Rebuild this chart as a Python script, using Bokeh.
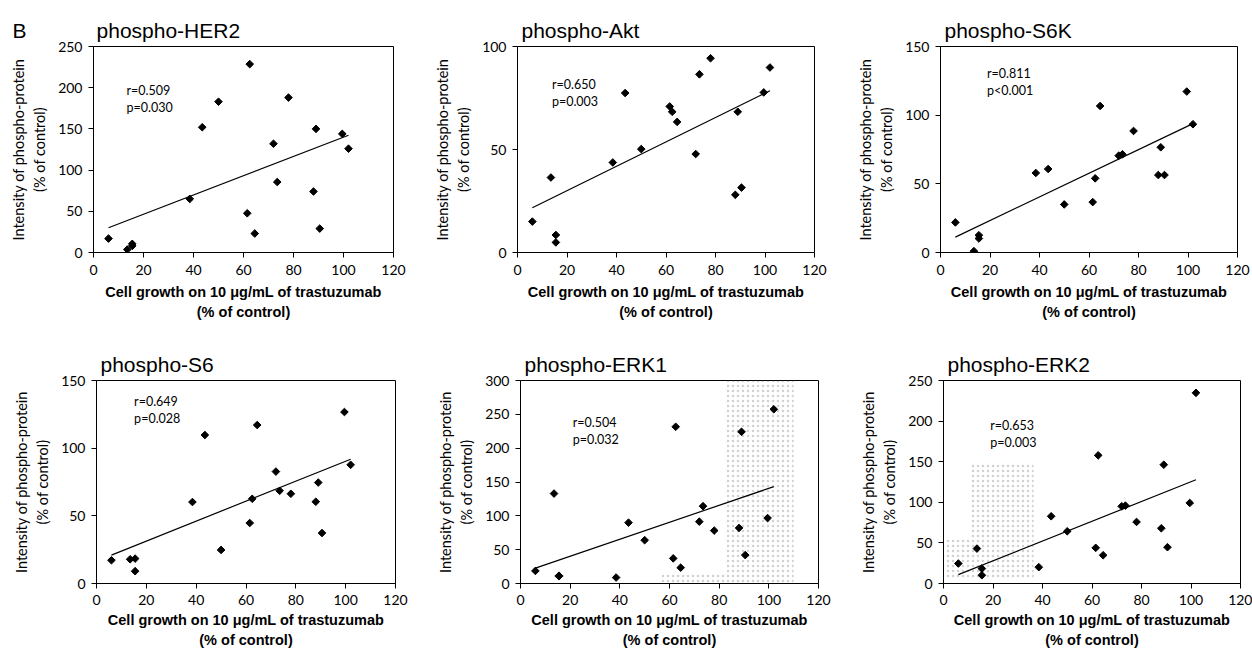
from bokeh.plotting import figure
from bokeh.layouts import column, row
from bokeh.models import Range1d, FixedTicker, Label
from bokeh.embed import file_html
from bokeh.resources import INLINE

# ---------------- data ----------------
# cell growth on 10 ug/mL trastuzumab (% of control), 18 cell lines, shared by all panels
growth = [6, 13.5, 15.5, 15.5, 38.5, 43.5, 50, 61.5, 62.5, 64.5, 72, 73.5, 78, 88, 89, 90.5, 99.5, 102]

her2 = [16.9, 3.6, 8, 10.5, 65, 152, 183, 47.6, 228.6, 23, 132, 85.5, 188, 74, 150, 29, 144, 126]
akt = [15, 36.4, 8.5, 4.9, 43.7, 77.4, 50.2, 70.9, 68.3, 63.4, 47.8, 86.5, 94.3, 28, 68.3, 31.5, 77.7, 89.8]
s6k = [21.9, 1, 12.6, 10.2, 57.9, 60.8, 35, 36.7, 54, 106.7, 70.5, 71.5, 88.5, 56.4, 76.6, 56.4, 117.2, 93.4]
s6 = [17.2, 17.9, 18.4, 9.1, 60.2, 109.7, 24.8, 44.7, 62.6, 117.1, 82.7, 68.5, 66.3, 60.4, 74.6, 37.3, 126.7, 87.7]
erk1 = [18.6, 132.9, 10.7, 11.5, 8.8, 89.9, 64, 37.1, 231.6, 23.4, 91.4, 114.3, 78.2, 82.1, 224.2, 42, 96.7, 257.5]
erk2 = [24.6, 43, 18.4, 10.2, 20.1, 82.8, 64.3, 43.9, 157.8, 34.8, 95.1, 95.9, 75.8, 68, 146.3, 44.7, 99.2, 234.8]

titles = ["phospho-HER2", "phospho-Akt", "phospho-S6K", "phospho-S6", "phospho-ERK1", "phospho-ERK2"]
series = [her2, akt, s6k, s6, erk1, erk2]
y_max = [250, 100, 150, 150, 300, 250]
y_step = [50, 50, 50, 50, 50, 50]
# regression lines as drawn (intercept, slope)
fit_intercept = [23.0, 18.15, 6.04, 16.56, 15.23, 3.68]
fit_slope = [1.17, 0.592, 0.861, 0.738, 1.254, 1.216]
r_text = ["r=0.509", "r=0.650", "r=0.811", "r=0.649", "r=0.504", "r=0.653"]
p_text = ["p=0.030", "p=0.003", "p<0.001", "p=0.028", "p=0.032", "p=0.003"]
x_ticks = [0, 20, 40, 60, 80, 100, 120]
panel_letter = "B"

x_label = "Cell growth on 10 \u03bcg/mL of trastuzumab\n(% of control)"
y_label = "Intensity of phospho-protein\n(% of control)"

# grey stipple left on the scanned original (panel index, x0, x1, y0, y1 in data units)
scan_panel = [4, 4, 5, 5]
scan_x0 = [83, 56, 10.8, 0]
scan_x1 = [110, 83, 36.4, 10.8]
scan_y0 = [0, 0, 6, 6]
scan_y1 = [300, 15, 147, 57]

# ---------------- layout (pixels) ----------------
# width, height, border left, right, top, bottom
geom = [
    (428, 338, 93, 35, 46, 86),
    (420, 338, 89, 34, 46, 86),
    (404, 338, 92, 15, 46, 86),
    (430, 313, 96, 35, 42, 67),
    (420, 313, 90, 32, 42, 67),
    (402, 313, 93, 12, 42, 67),
]
title_standoff = [9, 9, 9, 10, 10, 10]
tick_standoff_x = [7, 7, 7, 6, 6, 6]
label_standoff_x = [6, 6, 6, 4, 4, 4]
# stats text position (data units): x, y of first line, y of second line
stat_pos = [
    (13.2, 197, 176),
    (13.9, 81.6, 73.5),
    (18.8, 130.6, 117.7),
    (15.1, 134.5, 122),
    (21.0, 238, 213.5),
    (18.9, 194.7, 173.4),
]

TICK_FONT = "Lato"
NBSP = "\u00a0"
figs = []
for i in range(6):
    W, H, L, R, T, B = geom[i]
    p = figure(width=W, height=H, x_range=Range1d(0, 120), y_range=Range1d(0, y_max[i]),
               output_backend="svg", toolbar_location=None,
               min_border_left=L, min_border_right=R, min_border_top=T, min_border_bottom=B)
    if i == 0:
        # panel letter shares the first title line (annotations are clipped to the frame)
        p.title.text = panel_letter + NBSP * 12 + titles[i]
        p.title.offset = -81
    else:
        p.title.text = titles[i]
        p.title.offset = 4
    p.title.text_font = "Liberation Sans"
    p.title.text_font_size = "21px"
    p.title.text_font_style = "normal"
    p.title.text_color = "black"
    p.title.align = "left"
    p.title.standoff = title_standoff[i]

    p.xgrid.visible = False
    p.ygrid.visible = False
    p.outline_line_color = "black"
    p.outline_line_width = 1
    p.background_fill_color = "white"
    p.border_fill_color = "white"

    # scan stipple
    for k in range(len(scan_panel)):
        if scan_panel[k] == i:
            p.quad(left=scan_x0[k], right=scan_x1[k], bottom=scan_y0[k], top=scan_y1[k],
                   fill_color=None, line_color=None, hatch_pattern="dot",
                   hatch_color="#9a9a9a", hatch_alpha=0.45, hatch_scale=5, hatch_weight=1)

    p.xaxis.ticker = FixedTicker(ticks=x_ticks)
    p.yaxis.ticker = FixedTicker(ticks=list(range(0, y_max[i] + 1, y_step[i])))
    for ax in (p.xaxis[0], p.yaxis[0]):
        ax.axis_line_color = "black"
        ax.axis_line_width = 1
        ax.major_tick_line_color = "black"
        ax.major_tick_in = 0
        ax.major_tick_out = 5
        ax.minor_tick_line_color = None
        ax.major_label_text_font = TICK_FONT
        ax.major_label_text_font_size = "14px"
        ax.major_label_text_color = "black"
        ax.axis_label_text_color = "black"
    p.xaxis.major_label_standoff = tick_standoff_x[i]
    p.yaxis.major_label_standoff = 6

    p.xaxis.axis_label = x_label
    p.xaxis.axis_label_text_font = "Liberation Sans"
    p.xaxis.axis_label_text_font_size = "14.5px"
    p.xaxis.axis_label_text_font_style = "bold"
    p.xaxis.axis_label_text_line_height = 1.3
    p.xaxis.axis_label_standoff = label_standoff_x[i]

    p.yaxis.axis_label = y_label
    p.yaxis.axis_label_text_font = TICK_FONT
    p.yaxis.axis_label_text_font_size = "14.5px"
    p.yaxis.axis_label_text_font_style = "normal"
    p.yaxis.axis_label_text_line_height = 1.25
    p.yaxis.axis_label_standoff = 7

    # regression line over the observed growth range
    xs = [min(growth), max(growth)]
    ys = [fit_intercept[i] + fit_slope[i] * v for v in xs]
    p.line(xs, ys, line_color="black", line_width=1.2)

    p.scatter(growth, series[i], marker="square", angle=0.785, size=5.4,
              fill_color="black", line_color="black")

    sx, sy1, sy2 = stat_pos[i]
    for txt, yy in ((r_text[i], sy1), (p_text[i], sy2)):
        p.add_layout(Label(x=sx, y=yy, text=txt, text_font=TICK_FONT, text_font_size="12.5px",
                           text_baseline="middle", text_align="left", text_color="black"))
    figs.append(p)

layout = column(row(figs[0], figs[1], figs[2]), row(figs[3], figs[4], figs[5]))
open("out.html", "w", encoding="utf-8").write(file_html(layout, INLINE))
